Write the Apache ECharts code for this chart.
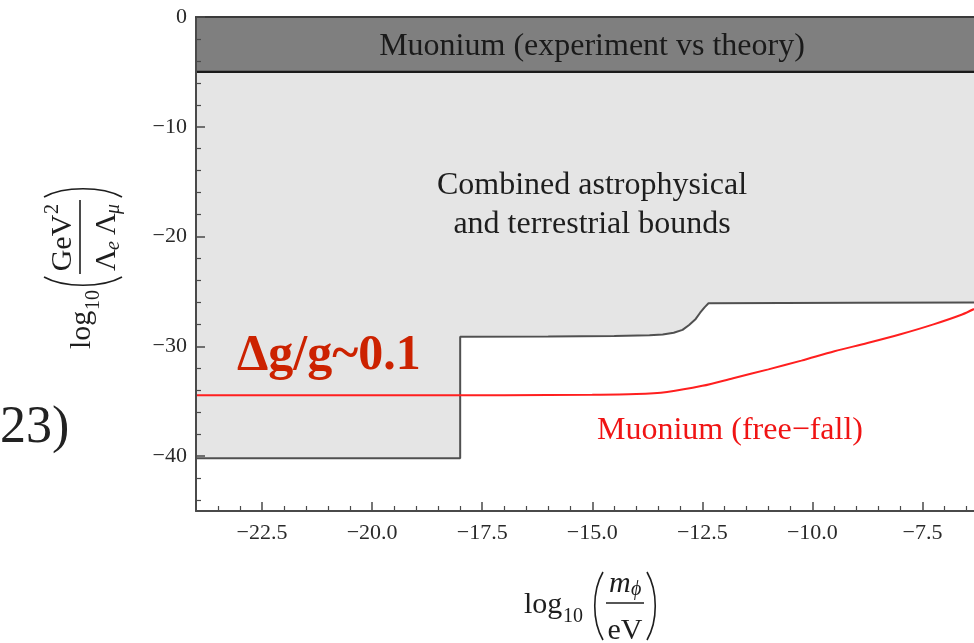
<!DOCTYPE html>
<html><head><meta charset="utf-8">
<script src="https://cdn.jsdelivr.net/npm/echarts@6/dist/echarts.min.js"></script>
<style>html,body{margin:0;padding:0;background:#fff}#c{width:974px;height:643px}</style>
</head><body><div id="c"></div>
<script>
// ---- axis ranges & ticks ----
const X_MIN = -24, X_MAX = -6.33, Y_MIN = -45, Y_MAX = 0;
const xMajorTicks = [-22.5, -20, -17.5, -15, -12.5, -10, -7.5];
const xMinorTicks = [-23.5,-23,-22,-21.5,-21,-20.5,-19.5,-19,-18.5,-18,-17,-16.5,-16,-15.5,-14.5,-14,-13.5,-13,-12,-11.5,-11,-10.5,-9.5,-9,-8.5,-8,-7,-6.5];
const yMajorTicks = [0, -10, -20, -30, -40];
const yMinorTicks = [-2,-4,-6,-8,-12,-14,-16,-18,-22,-24,-26,-28,-32,-34,-36,-38,-42,-44];

// ---- data ----
// Muonium (experiment vs theory) excluded band: y from -5 up to 0
const bandX = [-24, -6.33];
const bandY = [-5, -5];
// Combined astrophysical and terrestrial bounds (lower edge of excluded region)
const boundX = [-24, -18, -18, -16, -14.5, -13.7, -13.4, -13.15, -12.95, -12.8, -12.65, -12.55, -12.45, -12.36, -9, -6.33];
const boundY = [-40.2, -40.2, -29.12, -29.1, -29.06, -29.0, -28.92, -28.76, -28.5, -28.05, -27.5, -26.94, -26.45, -26.08, -26.02, -26.0];
// Muonium (free-fall) projected sensitivity
const redX = [-24, -17, -15, -14, -13.3, -12.5, -11.8, -11.0, -10.25, -9.5, -8.75, -8.0, -7.25, -6.6, -6.33];
const redY = [-34.45, -34.45, -34.42, -34.35, -34.15, -33.6, -32.9, -32.1, -31.3, -30.45, -29.7, -28.9, -28.0, -27.1, -26.6];

const zip = (a, b) => a.map((v, i) => [v, b[i]]);
const SERIF = "'Liberation Serif','Times New Roman',serif";
const INK = '#1e1e1e';
const AXC = '#4a4a4a';
const minus = s => s.replace('-', '\u2212');

function txt(x, y, text, size, opts) {
  opts = opts || {};
  return {
    type: 'text', x: x, y: y, z: 100, silent: true,
    style: {
      text: text,
      font: (opts.style || '') + ' ' + (opts.weight || 'normal') + ' ' + size + 'px ' + SERIF,
      fill: opts.fill || INK,
      align: opts.align || 'left',
      verticalAlign: 'middle'
    }
  };
}
function paren(x1, yTop, xc, yBot) {
  const h = yBot - yTop;
  return {
    type: 'bezierCurve', silent: true, z: 100,
    shape: { x1: x1, y1: yTop, cpx1: xc, cpy1: yTop + h * 0.28, cpx2: xc, cpy2: yBot - h * 0.28, x2: x1, y2: yBot },
    style: { stroke: INK, lineWidth: 1.6, fill: null }
  };
}

const chart = echarts.init(document.getElementById('c'), null, { renderer: 'canvas' });

const xTitle = {
  type: 'group', x: 625, y: 603, silent: true, z: 100,
  children: [
    txt(-101, 2, 'log', 30),
    txt(-62, 14, '10', 20),
    paren(-22, -31, -33, 37),
    txt(-16, -19, 'm', 30, { style: 'italic' }),
    txt(6, -13, '\u03d5', 20, { style: 'italic' }),
    { type: 'line', z: 100, shape: { x1: -19, y1: 0, x2: 19, y2: 0 }, style: { stroke: INK, lineWidth: 1.6 } },
    txt(0, 28, 'eV', 30, { align: 'center' }),
    paren(22, -31, 33, 37)
  ]
};

// y title: built horizontally then rotated 90deg CCW
const yTitle = {
  type: 'group', x: 80, y: 237, rotation: Math.PI / 2, silent: true, z: 100,
  children: [
    txt(-112, 2, 'log', 30),
    txt(-73, 14, '10', 20),
    { type: 'bezierCurve', silent: true, z: 100,
      shape: { x1: -40, y1: -36, cpx1: -51, cpy1: -16, cpx2: -51, cpy2: 22, x2: -40, y2: 42 },
      style: { stroke: INK, lineWidth: 1.6, fill: null } },
    txt(-6, -17, 'GeV', 30, { align: 'center' }),
    txt(23, -27, '2', 20),
    { type: 'line', z: 100, shape: { x1: -37, y1: 0, x2: 37, y2: 0 }, style: { stroke: INK, lineWidth: 1.6 } },
    txt(-34, 27, '\u039b', 30),
    txt(-13, 34, 'e', 20, { style: 'italic' }),
    txt(2, 27, '\u039b', 30),
    txt(23, 34, '\u03bc', 20, { style: 'italic' }),
    { type: 'bezierCurve', silent: true, z: 100,
      shape: { x1: 40, y1: -36, cpx1: 51, cpy1: -16, cpx2: 51, cpy2: 22, x2: 40, y2: 42 },
      style: { stroke: INK, lineWidth: 1.6, fill: null } }
  ]
};

const gridBox = { left: 196, right: 0, top: 17, bottom: 132, containLabel: false };

const option = {
  animation: false,
  backgroundColor: '#ffffff',
  grid: [ Object.assign({}, gridBox), Object.assign({}, gridBox) ],
  xAxis: [
    { type: 'value', gridIndex: 0, min: X_MIN, max: X_MAX, position: 'bottom', z: 20,
      axisLine: { show: true, onZero: false, lineStyle: { color: AXC, width: 2 } },
      axisTick: { show: true, inside: true, length: 9, customValues: xMajorTicks, lineStyle: { color: AXC, width: 1.5 } },
      axisLabel: { show: true, customValues: xMajorTicks, margin: 11, color: '#2a2a2a', fontFamily: SERIF, fontSize: 22,
        formatter: v => minus(Number(v).toFixed(1)) },
      splitLine: { show: false } },
    { type: 'value', gridIndex: 0, min: X_MIN, max: X_MAX, position: 'top', z: 20,
      axisLine: { show: true, onZero: false, lineStyle: { color: '#3a3a3a', width: 2 } },
      axisTick: { show: false }, axisLabel: { show: false }, splitLine: { show: false } },
    { type: 'value', gridIndex: 1, min: X_MIN, max: X_MAX, position: 'bottom', z: 20,
      axisLine: { show: false, onZero: false },
      axisTick: { show: true, inside: true, length: 5, customValues: xMinorTicks, lineStyle: { color: AXC, width: 1.2 } },
      axisLabel: { show: false }, splitLine: { show: false } }
  ],
  yAxis: [
    { type: 'value', gridIndex: 0, min: Y_MIN, max: Y_MAX, position: 'left', z: 20,
      axisLine: { show: true, onZero: false, lineStyle: { color: AXC, width: 2 } },
      axisTick: { show: true, inside: true, length: 9, customValues: yMajorTicks, lineStyle: { color: AXC, width: 1.5 } },
      axisLabel: { show: true, customValues: yMajorTicks, margin: 9, color: '#2a2a2a', fontFamily: SERIF, fontSize: 22,
        formatter: v => minus(String(Math.round(v))) },
      splitLine: { show: false } },
    { type: 'value', gridIndex: 1, min: Y_MIN, max: Y_MAX, position: 'left', z: 20,
      axisLine: { show: false, onZero: false },
      axisTick: { show: true, inside: true, length: 5, customValues: yMinorTicks, lineStyle: { color: AXC, width: 1.2 } },
      axisLabel: { show: false }, splitLine: { show: false } }
  ],
  series: [
    { name: 'Combined astrophysical and terrestrial bounds', type: 'line', xAxisIndex: 0, yAxisIndex: 0,
      data: zip(boundX, boundY), showSymbol: false, symbol: 'none', smooth: false, z: 2,
      lineStyle: { color: '#505050', width: 2 },
      areaStyle: { color: '#e5e5e5', opacity: 1, origin: 'end' } },
    { name: 'Muonium (experiment vs theory)', type: 'line', xAxisIndex: 0, yAxisIndex: 0,
      data: zip(bandX, bandY), showSymbol: false, symbol: 'none', z: 3,
      lineStyle: { color: '#1a1a1a', width: 2.2 },
      areaStyle: { color: '#7f7f7f', opacity: 1, origin: 'end' } },
    { name: 'Muonium (free-fall)', type: 'line', xAxisIndex: 0, yAxisIndex: 0,
      data: zip(redX, redY), showSymbol: false, symbol: 'none', smooth: 0.3, z: 4,
      lineStyle: { color: '#ff1f1f', width: 2 } }
  ],
  graphic: { elements: [
    txt(592, 47, 'Muonium (experiment vs theory)', 32, { align: 'center', fill: '#1a1a1a' }),
    txt(592, 186, 'Combined astrophysical', 32, { align: 'center' }),
    txt(592, 225, 'and terrestrial bounds', 32, { align: 'center' }),
    txt(237, 356, '\u0394g/g~0.1', 50, { weight: 'bold', fill: '#cc2200' }),
    txt(730, 431, 'Muonium (free\u2212fall)', 32, { align: 'center', fill: '#f01414' }),
    txt(0, 428, '23)', 52, { fill: '#222' }),
    xTitle,
    yTitle
  ] }
};
chart.setOption(option);
</script>
</body></html>
